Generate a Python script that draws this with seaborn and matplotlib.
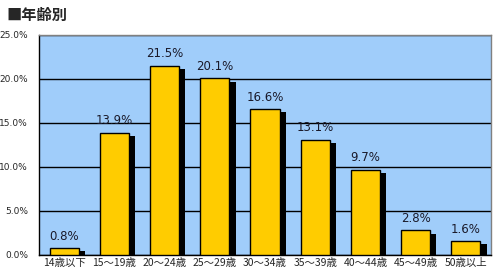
import matplotlib
matplotlib.use('Agg')
import matplotlib.pyplot as plt
import matplotlib.patheffects as pe
import seaborn as sns
import pandas as pd
import numpy as np

categories = ['14歳以下', '15～19歳', '20～24歳', '25～29歳', '30～34歳',
              '35～39歳', '40～44歳', '45～49歳', '50歳以上']
shares = [0.8, 13.9, 21.5, 20.1, 16.6, 13.1, 9.7, 2.8, 1.6]
y_ticks = [0, 5, 10, 15, 20, 25]

df = pd.DataFrame({'age': categories, 'share': shares})

sns.set_style('white')
plt.rcParams['font.family'] = ['Noto Sans CJK JP', 'DejaVu Sans']

fig = plt.figure(figsize=(5, 2.75), dpi=100)
ax = fig.add_axes([0.078, 0.073, 0.904, 0.8])

sns.barplot(data=df, x='age', y='share', color='#FFCC00', width=0.58,
            saturation=1, edgecolor='black', linewidth=1, ax=ax, zorder=3)
for bar in ax.patches:
    bar.set_path_effects([pe.SimplePatchShadow(offset=(4.5, -2.5), shadow_rgbFace='black', alpha=1),
                          pe.Normal()])

for i, v in enumerate(shares):
    ax.text(i, v + 0.6, f'{v:.1f}%', ha='center', va='bottom', fontsize=8.5,
            family='DejaVu Sans', color='#1a1a2a', zorder=4)

ax.set_facecolor('#A0CDFA')
ax.set_xlim(-0.5, len(categories) - 0.5)
ax.set_ylim(0, 25)
ax.set_yticks(y_ticks)
ax.set_yticklabels([f'{t:.1f}%' for t in y_ticks], fontsize=6.5, family='DejaVu Sans')
ax.yaxis.grid(True, color='black', linewidth=1, zorder=1)
ax.set_axisbelow(True)
ax.set_xticks(range(len(categories)))
ax.set_xticklabels(categories, fontsize=7.5)
ax.set_xticks(np.arange(0.5, len(categories) - 0.5), minor=True)
ax.tick_params(axis='x', which='major', length=0, pad=2)
ax.tick_params(axis='x', which='minor', length=4, width=1, color='black', direction='out')
ax.tick_params(axis='y', length=0, pad=8)
ax.set_xlabel('')
ax.set_ylabel('')

for side in ['top', 'right']:
    ax.spines[side].set_color('#808080')
    ax.spines[side].set_linewidth(1)
for side in ['left', 'bottom']:
    ax.spines[side].set_color('black')
    ax.spines[side].set_linewidth(1)

fig.text(0.012, 0.945, '■年齢別', fontsize=11, fontweight='bold', ha='left', va='center')

fig.savefig('out.png', dpi=100)
